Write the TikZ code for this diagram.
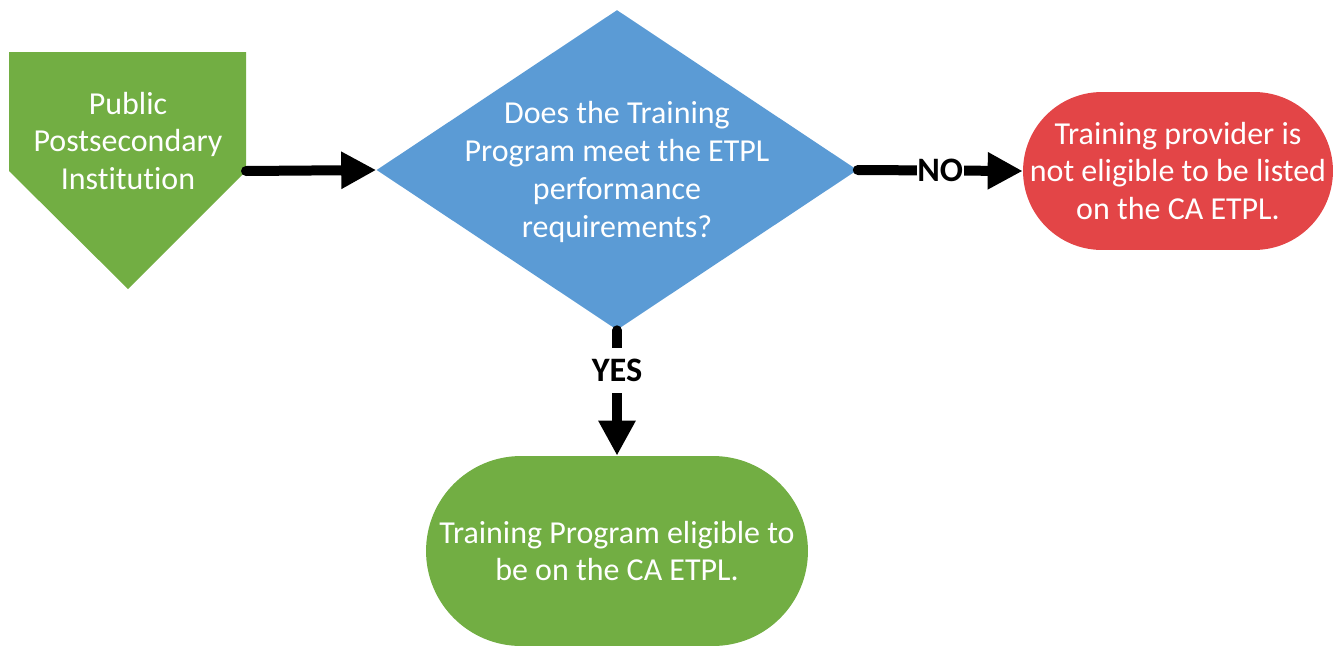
\documentclass[tikz,border=0pt]{standalone}
\usepackage{fontspec}
\setmainfont{Carlito}[Ligatures={NoCommon}]
\usetikzlibrary{shapes.geometric,arrows.meta}
\definecolor{boxgreen}{RGB}{114,174,67}
\definecolor{boxblue}{RGB}{91,155,213}
\definecolor{boxred}{RGB}{227,69,71}

\begin{document}
\begin{tikzpicture}[x=0.02cm, y=-0.02cm,
	flowtext/.style={text=white, align=center, font=\fontsize{18.2}{21.6}\selectfont},
	stadium/.style={flowtext, inner sep=0pt},
	flowarrow/.style={line width=0.2cm, line cap=round, -{Triangle[length=0.7cm, width=0.7cm]}},
	answer/.style={font=\bfseries\fontsize{19.5}{22}\selectfont, fill=white, inner xsep=0.5pt, inner ysep=6.5pt}]
	\useasboundingbox (0,0) rectangle (1339,646);
	\coordinate (p1) at (9,52); \coordinate (p2) at (246,52);
	\coordinate (p3) at (246,171); \coordinate (p4) at (128,289);
	\coordinate (p5) at (9,171);
	\fill[boxgreen] (p1) -- (p2) -- (p3) -- (p4) -- (p5) -- cycle;
	\node[flowtext] (inst) at (128,141) {Public\\Postsecondary\\Institution};
	\node[diamond, fill=boxblue, minimum width=9.62cm, minimum height=6.4cm, inner sep=0pt] (check) at (617,170) {};
	\node[flowtext] (checktext) at (617,172) {Does the Training\\Program meet the ETPL\\performance\\requirements?};
	\node[stadium, fill=boxred, minimum width=6.2cm, minimum height=3.16cm, rounded corners=1.58cm] (reject) at (1178,171)
		{Training provider is\\not eligible to be listed\\on the CA ETPL.};
	\node[stadium, fill=boxgreen, minimum width=7.64cm, minimum height=3.8cm, rounded corners=1.9cm] (accept) at (617,551)
		{Training Program eligible to\\be on the CA ETPL.};
	\draw[flowarrow] (p3) -- (check.west);
	\draw[flowarrow] (check.east) -- node[answer] (no) {NO} (reject.west);
	\draw[flowarrow] (check.south) -- node[answer, pos=0.32] (yes) {YES} (accept.north);
\end{tikzpicture}
\end{document}
